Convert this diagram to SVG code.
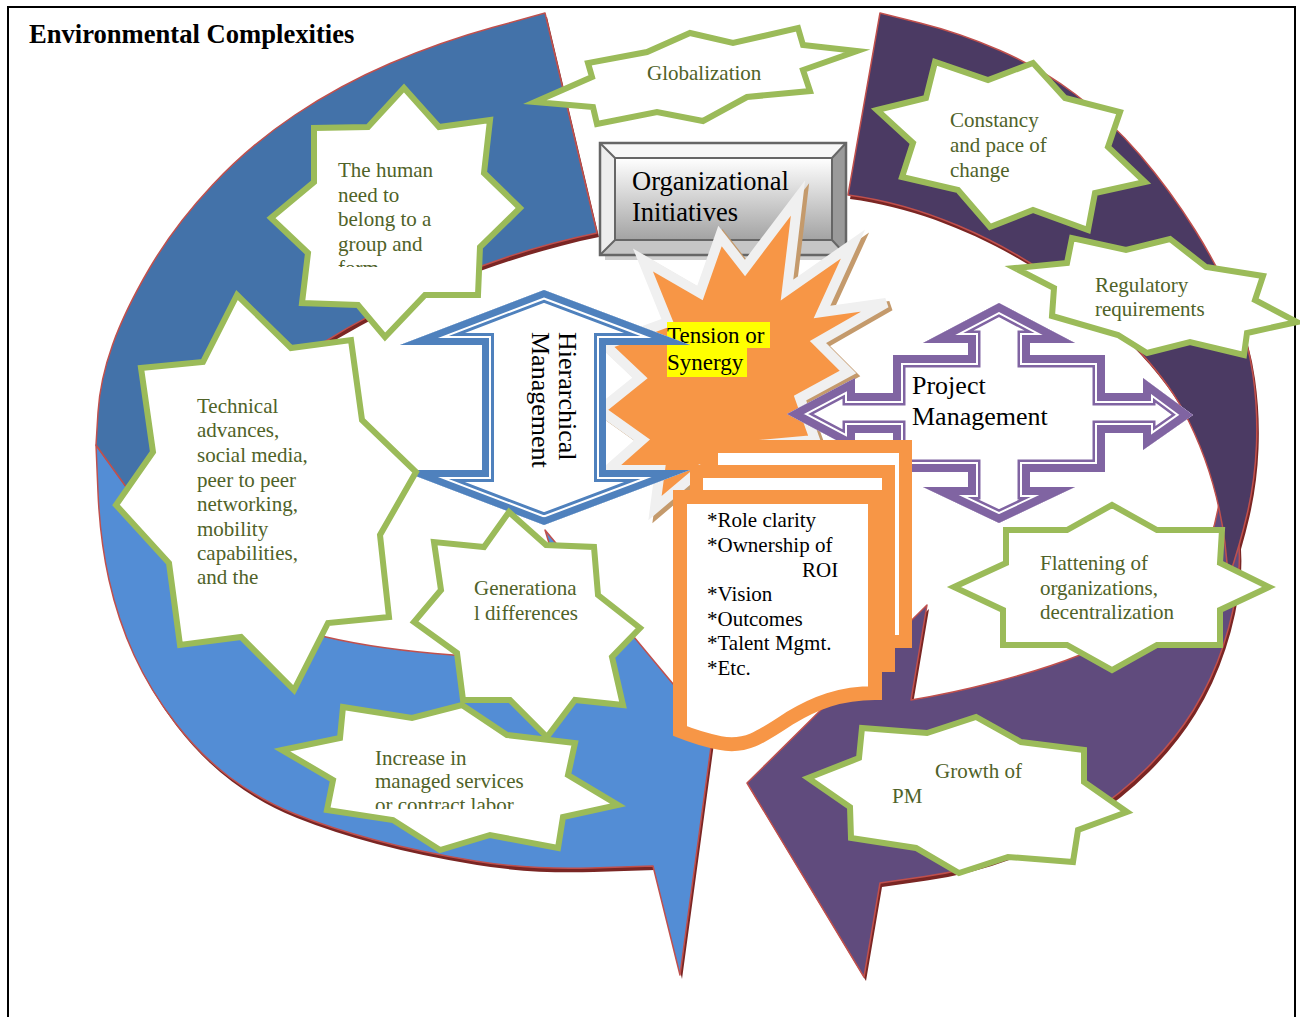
<svg xmlns="http://www.w3.org/2000/svg" width="1300" height="1017" viewBox="0 0 1300 1017">
<defs>
<style>
.star{fill:#fff;stroke:#9BBB59;stroke-width:6;stroke-linejoin:miter;stroke-miterlimit:10}
.st{font-family:"Liberation Serif","Times New Roman",serif;font-size:21px;fill:#4F6228}
.bk{font-family:"Liberation Serif","Times New Roman",serif;fill:#000}
.edge{stroke:#C0504D;stroke-width:1.5;stroke-linejoin:round}
.shadow{fill:#7A2624}
</style>
<linearGradient id="faceGrad" x1="0" y1="0" x2="0" y2="1">
<stop offset="0" stop-color="#FFFFFF"/>
<stop offset="1" stop-color="#A3A3A3"/>
</linearGradient>
<path id="hmShape" d="M544,290 L690,345 L606,345 L606,470 L690,470 L544,525 L400,470 L482,470 L482,345 L400,345 Z"/>
<path id="pmShape" d="M999,303 L1075,343 L1030,343 L1030,355 L1105,355 L1105,393 L1143,393 L1143,378 L1193,415 L1143,450 L1143,433 L1105,433 L1105,472 L1030,472 L1030,487 L1075,487 L999,523 L923,487 L968,487 L968,472 L893,472 L893,433 L855,433 L855,450 L787,414 L855,378 L855,393 L893,393 L893,355 L968,355 L968,343 L923,343 Z"/>
<path id="tensionShape" d="M643,260 L700,293 L720,236 L745,268 L798,198 L787,290 L853,244 L822,312 L886,303 L818,342 L848,372 L800,398 L815,440 L760,445 L745,490 L700,470 L655,508 L660,470 L608,470 L642,440 L600,410 L640,378 L605,345 L668,322 Z"/>
<clipPath id="hmClip"><use href="#hmShape"/></clipPath>
<clipPath id="pmClip"><use href="#pmShape"/></clipPath>
<path id="blueDark" d="M545,13 L492.5,27.5 Q440,42 390,63.5 Q340,85 295,115 Q250,145 212.5,185 Q175,225 150,267.5 Q125,310 112.5,345 Q100,380 98,412.5 L96,445 L150,520 C200,430 250,380 316,347 C390,300 490,255 597,233 Z"/>
<path id="blueLight" d="M96,445 L98,492.5 Q100,540 109,580 Q118,620 134,655 Q150,690 175,722.5 Q200,755 230,777.5 Q260,800 295,814 Q330,828 375,840 Q420,852 475,861 Q530,870 591.5,868 L653,866 L680,975 L713,732 L545,530 L582,650 C540,660 490,658 453,655 C400,651 360,645 326,637 C280,626 240,605 210,580 C185,560 165,540 150,520 Z"/>
<path id="purpleDark" d="M880,13 L920,23 Q960,33 1000,50.5 Q1040,68 1075,94 Q1110,120 1140,155 Q1170,190 1195,230 Q1220,270 1234,305 Q1248,340 1253,375 Q1258,410 1256.5,445 Q1255,480 1247.5,512.5 Q1240,545 1228,580 C1226,530 1215,470 1183,410 C1140,330 1000,215 848,195 Z"/>
<path id="purpleLight" d="M1222,470 L1232,505 Q1242,540 1238.5,575 Q1235,610 1223.5,645 Q1212,680 1193.5,710 Q1175,740 1147.5,767.5 Q1120,795 1085,817.5 Q1050,840 1010,855 Q970,870 925,876.5 L880,883 L864,977 L747,783 L927,605 L911,700 C960,692 1030,675 1080,655 C1140,630 1190,590 1210,540 C1218,515 1222,490 1222,470 Z"/>
<clipPath id="humanClip"><rect x="300" y="80" width="230" height="187"/></clipPath>
<clipPath id="incClip"><rect x="280" y="700" width="340" height="109"/></clipPath>
</defs>

<rect x="0" y="0" width="1300" height="1017" fill="#fff"/>
<rect x="8" y="7" width="1287" height="1030" fill="none" stroke="#000" stroke-width="2"/>
<text id="title" class="bk" x="29" y="43" font-size="26.6" font-weight="bold">Environmental Complexities</text>

<g id="connectors">
  <g id="blue-arrow">
    <use href="#blueLight" class="shadow" transform="translate(2,4)"/>
    <use href="#blueDark" class="shadow" transform="translate(2,4)"/>
    <use href="#blueLight" fill="#538DD5" class="edge"/>
    <use href="#blueDark" fill="#4372A9" class="edge"/>
  </g>
  <g id="purple-arrow">
    <use href="#purpleLight" class="shadow" transform="translate(2,4)"/>
    <use href="#purpleDark" class="shadow" transform="translate(2,4)"/>
    <use href="#purpleLight" fill="#604B7D" class="edge"/>
    <use href="#purpleDark" fill="#4B3A63" class="edge"/>
  </g>
</g>

<g id="globalization">
  <polygon class="star" points="535,102 592,77 588,63 647,52 690,33 733,43 798,28 803,45 857,51 803,70 810,91 747,97 703,121 657,112 597,124 593,107"/>
  <text class="st" x="647" y="80">Globalization</text>
</g>

<g id="organizational-initiatives">
  <rect x="605" y="253" width="243" height="7" fill="#CFCFCF"/>
  <rect x="600" y="143" width="246" height="112" fill="#D9D9D9"/>
  <polygon points="601,144 845,144 832,158 615,158" fill="#F7F7F7"/>
  <polygon points="601,144 615,158 615,240 601,254" fill="#EDEDED"/>
  <polygon points="845,144 845,254 832,240 832,158" fill="#9A9A9A"/>
  <polygon points="601,254 845,254 832,240 615,240" fill="#C6C6C6"/>
  <rect x="615" y="158" width="217" height="82" fill="url(#faceGrad)" stroke="#666" stroke-width="2"/>
  <path d="M601,144 L615,158 M845,144 L832,158 M601,254 L615,240 M845,254 L832,240" stroke="#666" stroke-width="2"/>
  <rect x="600" y="143" width="246" height="112" fill="none" stroke="#666" stroke-width="2.5"/>
  <text class="bk" x="632" y="190" font-size="26.5">Organizational</text>
  <text class="bk" x="632" y="221" font-size="26.5">Initiatives</text>
</g>

<g id="tension">
  <use href="#tensionShape" fill="#C49A6C" stroke="#C49A6C" stroke-width="10" stroke-linejoin="miter" transform="translate(4,3)"/>
  <use href="#tensionShape" fill="#F79646" stroke="#F0F0F0" stroke-width="10" stroke-linejoin="miter"/>
  <rect x="667" y="322" width="103" height="26" fill="#FFFF00"/>
  <rect x="667" y="348" width="80" height="29" fill="#FFFF00"/>
  <text class="bk" x="667" y="343" font-size="23">Tension or</text>
  <text class="bk" x="667" y="370" font-size="23">Synergy</text>
</g>

<g id="hierarchical-management">
  <g clip-path="url(#hmClip)">
    <use href="#hmShape" fill="#fff" stroke="#4F81BD" stroke-width="24" stroke-linejoin="miter"/>
    <use href="#hmShape" fill="none" stroke="#fff" stroke-width="18" stroke-linejoin="miter"/>
    <use href="#hmShape" fill="none" stroke="#4F81BD" stroke-width="14" stroke-linejoin="miter"/>
  </g>
  <text class="bk" font-size="26" transform="translate(559,332) rotate(90)">Hierarchical</text>
  <text class="bk" font-size="26" transform="translate(532,332) rotate(90)">Management</text>
</g>

<g id="project-management">
  <g clip-path="url(#pmClip)">
    <use href="#pmShape" fill="#fff" stroke="#8064A2" stroke-width="25" stroke-linejoin="miter"/>
    <use href="#pmShape" fill="none" stroke="#fff" stroke-width="20" stroke-linejoin="miter"/>
    <use href="#pmShape" fill="none" stroke="#8064A2" stroke-width="16" stroke-linejoin="miter"/>
  </g>
  <text class="bk" x="912" y="394" font-size="26">Project</text>
  <text class="bk" x="912" y="425" font-size="26">Management</text>
</g>

<g id="documents">
  <rect x="711.5" y="446.5" width="194" height="195" fill="#fff" stroke="#F79646" stroke-width="13"/>
  <rect x="696.5" y="471.5" width="192" height="194" fill="#fff" stroke="#F79646" stroke-width="13"/>
  <path d="M680,497 L875,497 L875,693 C840,693 815,703 790,718 C760,738 745,748 720,743 C705,740 690,735 680,731 Z" fill="#fff" stroke="#F79646" stroke-width="14" stroke-linejoin="miter"/>
  <g class="bk" font-size="21">
    <text x="707" y="527">*Role clarity</text>
    <text x="707" y="552">*Ownership of</text>
    <text x="802" y="577">ROI</text>
    <text x="707" y="601">*Vision</text>
    <text x="707" y="626">*Outcomes</text>
    <text x="707" y="650">*Talent Mgmt.</text>
    <text x="707" y="675">*Etc.</text>
  </g>
</g>

<g id="human-need">
  <polygon class="star" points="404,88 439,127 490,120 484,173 520,208 480,247 478,295 425,295 385,337 358,305 302,303 308,253 271,218 314,182 314,128 368,127"/>
  <g class="st" clip-path="url(#humanClip)">
    <text x="338" y="177">The human</text>
    <text x="338" y="202">need to</text>
    <text x="338" y="226">belong to a</text>
    <text x="338" y="251">group and</text>
    <text x="338" y="275">form</text>
  </g>
</g>

<g id="technical-advances">
  <polygon class="star" points="237,295 291,348 351,340 362,420 416,472 380,535 389,617 328,623 294,690 241,637 180,645 169,563 116,505 153,452 141,368 203,362"/>
  <g class="st">
    <text x="197" y="413">Technical</text>
    <text x="197" y="437">advances,</text>
    <text x="197" y="462">social media,</text>
    <text x="197" y="487">peer to peer</text>
    <text x="197" y="511">networking,</text>
    <text x="197" y="536">mobility</text>
    <text x="197" y="560">capabilities,</text>
    <text x="197" y="584">and the</text>
  </g>
</g>

<g id="generational">
  <polygon class="star" points="509,512 546,545 594,547 598,595 640,628 612,657 623,705 575,700 547,737 510,700 463,700 457,653 414,622 441,590 434,542 484,547"/>
  <text class="st" x="474" y="595">Generationa</text>
  <text class="st" x="474" y="620">l differences</text>
</g>

<g id="increase">
  <polygon class="star" points="282,750 340,738 343,707 412,718 462,705 507,735 575,743 568,775 618,805 563,817 558,848 490,835 440,850 393,820 327,810 333,780"/>
  <g class="st" clip-path="url(#incClip)">
    <text x="375" y="765">Increase in</text>
    <text x="375" y="788">managed services</text>
    <text x="375" y="812">or contract labor</text>
  </g>
</g>

<g id="constancy">
  <polygon class="star" points="877,110 926,98 935,62 988,80 1033,63 1065,98 1120,112 1108,147 1145,182 1095,193 1088,230 1033,210 990,227 958,190 902,177 913,143"/>
  <text class="st" x="950" y="127">Constancy</text>
  <text class="st" x="950" y="152">and pace of</text>
  <text class="st" x="950" y="177">change</text>
</g>

<g id="regulatory">
  <polygon class="star" points="1015,268 1067,263 1072,238 1126,250 1170,239 1206,267 1263,276 1255,300 1297,322 1247,333 1244,355 1190,342 1147,353 1118,335 1052,316 1054,288"/>
  <text class="st" x="1095" y="292">Regulatory</text>
  <text class="st" x="1095" y="316">requirements</text>
</g>

<g id="flattening">
  <polygon class="star" points="954,587 1006,563 1006,530 1067,530 1112,505 1157,530 1222,530 1220,563 1269,587 1220,610 1220,645 1157,645 1112,670 1067,645 1003,645 1003,610"/>
  <text class="st" x="1040" y="570">Flattening of</text>
  <text class="st" x="1040" y="595">organizations,</text>
  <text class="st" x="1040" y="619">decentralization</text>
</g>

<g id="growth">
  <polygon class="star" points="808,778 859,758 862,728 927,733 976,717 1021,742 1084,750 1084,782 1127,812 1078,830 1073,862 1008,857 959,873 916,848 851,838 850,807"/>
  <text class="st" x="935" y="778">Growth of</text>
  <text class="st" x="892" y="803">PM</text>
</g>
</svg>
